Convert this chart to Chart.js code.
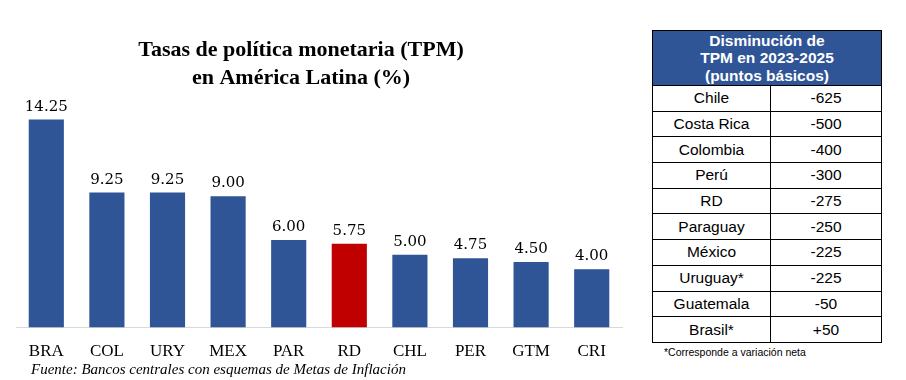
<!DOCTYPE html>
<html>
<head>
<meta charset="utf-8">
<script src="https://cdn.jsdelivr.net/npm/chart.js@4.4.1/dist/chart.umd.min.js"></script>
<style>
  html,body{margin:0;padding:0;background:#fff;width:906px;height:380px;overflow:hidden;}
  #wrap{position:absolute;left:0;top:0;width:640px;height:380px;}
  #src{position:absolute;left:31px;top:361px;font-family:"Liberation Serif",serif;font-style:italic;font-size:15px;color:#000;white-space:nowrap;}
  table{position:absolute;left:652px;top:30px;border-collapse:collapse;font-family:"Liberation Sans",Arial,sans-serif;width:230px;}
  th{background:#2F5597;color:#fff;font-weight:bold;font-size:15.5px;line-height:17.5px;height:54px;padding:0;border:1px solid #000;}
  td{border:1px solid #000;font-size:15.5px;text-align:center;height:24.7px;padding:0;color:#000;}
  td.c1{width:117px;}
  #note{position:absolute;left:664px;top:346px;font-family:"Liberation Sans",Arial,sans-serif;font-size:10.5px;color:#000;white-space:nowrap;}
</style>
</head>
<body>
<div id="wrap"><canvas id="c" width="640" height="380"></canvas></div>
<div id="src">Fuente: Bancos centrales con esquemas de Metas de Inflación</div>
<table id="tbl"></table>
<div id="note">*Corresponde a variación neta</div>
<script>
const categories = ["BRA","COL","URY","MEX","PAR","RD","CHL","PER","GTM","CRI"];
const rates = [14.25, 9.25, 9.25, 9.00, 6.00, 5.75, 5.00, 4.75, 4.50, 4.00];
const barColors = ["#2F5597","#2F5597","#2F5597","#2F5597","#2F5597","#C00000","#2F5597","#2F5597","#2F5597","#2F5597"];
const titleLines = ["Tasas de política monetaria (TPM)","en América Latina (%)"];

const tableHeader = ["Disminución de","TPM en 2023-2025","(puntos básicos)"];
const tableCountries = ["Chile","Costa Rica","Colombia","Perú","RD","Paraguay","México","Uruguay*","Guatemala","Brasil*"];
const tableChanges = ["-625","-500","-400","-300","-275","-250","-225","-225","-50","+50"];

// build table
const tbl = document.getElementById('tbl');
let html = '<tr><th colspan="2">' + tableHeader.join('<br>') + '</th></tr>';
for (let i = 0; i < tableCountries.length; i++) {
  html += '<tr><td class="c1">' + tableCountries[i] + '</td><td>' + tableChanges[i] + '</td></tr>';
}
tbl.innerHTML = html;

const titlePlugin = {
  id: 'titleText',
  afterDraw(chart) {
    const ctx = chart.ctx;
    ctx.save();
    ctx.font = 'bold 22px "Liberation Serif", serif';
    ctx.fillStyle = '#000';
    ctx.textAlign = 'center';
    ctx.textBaseline = 'alphabetic';
    ctx.fillText(titleLines[0], 301, 56);
    ctx.fillText(titleLines[1], 301, 84);
    ctx.restore();
  }
};

const valueLabels = {
  id: 'valueLabels',
  afterDatasetsDraw(chart) {
    const ctx = chart.ctx;
    const meta = chart.getDatasetMeta(0);
    ctx.save();
    ctx.font = '15px "DejaVu Serif", serif';
    ctx.fillStyle = '#000';
    ctx.textAlign = 'center';
    ctx.textBaseline = 'alphabetic';
    meta.data.forEach((bar, i) => {
      ctx.fillText(rates[i].toFixed(2), bar.x, bar.y - 9);
    });
    ctx.restore();
  }
};

new Chart(document.getElementById('c'), {
  type: 'bar',
  data: {
    labels: categories,
    datasets: [{
      data: rates,
      backgroundColor: barColors,
      borderWidth: 0,
      categoryPercentage: 1,
      barPercentage: 0.58
    }]
  },
  options: {
    responsive: false,
    animation: false,
    layout: { padding: { left: 16, right: 18, top: 97, bottom: 4 } },
    plugins: {
      legend: { display: false },
      tooltip: { enabled: false },
      title: { display: false }
    },
    scales: {
      x: {
        grid: { display: false, drawTicks: false },
        border: { display: true, color: '#D9D9D9', width: 1 },
        ticks: { color: '#000', font: { family: '"Liberation Serif", serif', size: 17 }, padding: 14 }
      },
      y: {
        display: false,
        min: 0,
        max: 15.8
      }
    }
  },
  plugins: [valueLabels, titlePlugin]
});
</script>
</body>
</html>
